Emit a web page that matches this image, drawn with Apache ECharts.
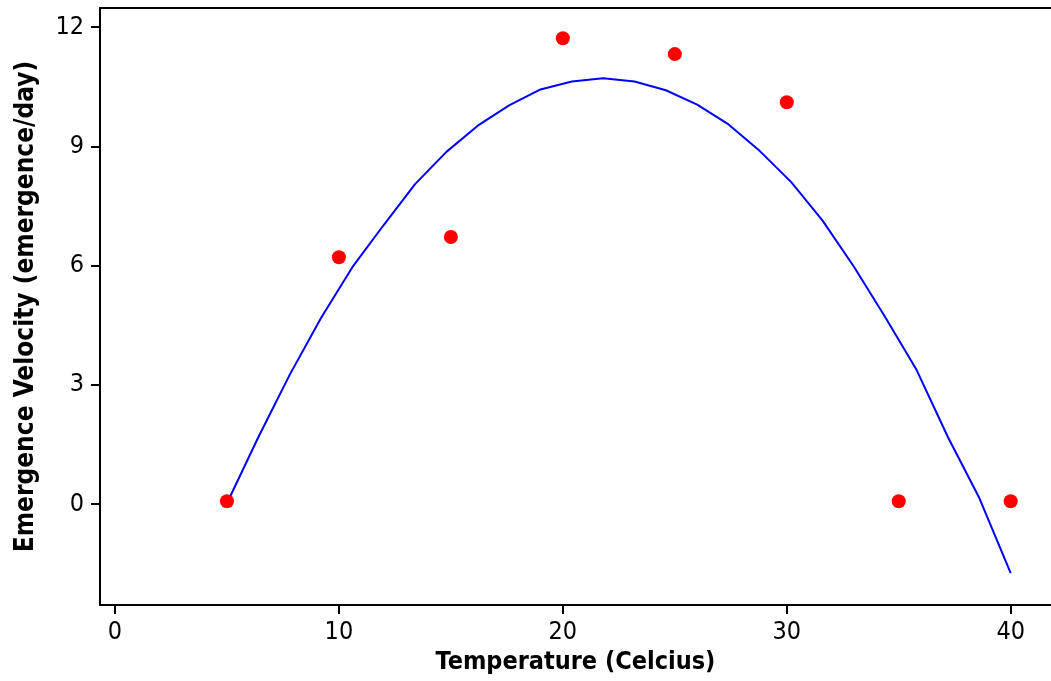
<!DOCTYPE html>
<html>
<head>
<meta charset="utf-8">
<script src="https://cdn.jsdelivr.net/npm/echarts@6/dist/echarts.min.js"></script>
<style>
html,body{margin:0;padding:0;background:#fff;}
#chart{width:1051px;height:681px;}
</style>
</head>
<body>
<div id="chart"></div>
<script>
// Observed data
const obsTemp = [5, 10, 15, 20, 25, 30, 35, 40];
const obsVelocity = [0.07, 6.21, 6.72, 11.72, 11.32, 10.11, 0.07, 0.07];

// Fitted curve
const fitTemp = [5.0, 6.4, 7.8, 9.2, 10.6, 12.0, 13.4, 14.8, 16.2, 17.6, 19.0, 20.4, 21.8,
                 23.2, 24.6, 26.0, 27.4, 28.8, 30.2, 31.6, 33.0, 34.4, 35.8, 37.2, 38.6, 40.0];
const fitVelocity = [0.02, 1.68, 3.25, 4.68, 5.96, 7.02, 8.05, 8.86, 9.52, 10.03, 10.43, 10.63, 10.71,
                     10.63, 10.41, 10.05, 9.55, 8.88, 8.1, 7.13, 5.97, 4.7, 3.37, 1.68, 0.15, -1.74];

// Tick labels
const xTicks = [0, 10, 20, 30, 40];
const yTicks = [0, 3, 6, 9, 12];

const chart = echarts.init(document.getElementById('chart'), null, {renderer: 'canvas'});
const font = '"DejaVu Sans Condensed", "DejaVu Sans", sans-serif';
chart.setOption({
  animation: false,
  backgroundColor: '#fff',
  grid: {left: 100, right: 0, top: 8, bottom: 76, containLabel: false},
  xAxis: [{
    type: 'value', min: -0.67, max: 41.8,
    name: 'Temperature (Celcius)', nameLocation: 'middle', nameGap: 45,
    nameTextStyle: {fontFamily: font, fontWeight: 'bold', fontSize: 25, color: '#000'},
    axisLine: {show: true, onZero: false, lineStyle: {color: '#000', width: 2}},
    axisTick: {show: true, length: 9, customValues: xTicks, lineStyle: {color: '#000', width: 2}},
    axisLabel: {customValues: xTicks, margin: 15, fontFamily: font, fontSize: 25, color: '#000'},
    splitLine: {show: false}
  }, {
    type: 'value', position: 'top', min: -0.67, max: 41.8,
    axisLine: {show: true, onZero: false, lineStyle: {color: '#000', width: 2}},
    axisTick: {show: false}, axisLabel: {show: false}, splitLine: {show: false}
  }],
  yAxis: {
    type: 'value', min: -2.54, max: 12.48,
    name: 'Emergence Velocity (emergence/day)', nameLocation: 'middle', nameGap: 61,
    nameTextStyle: {fontFamily: font, fontWeight: 'bold', fontSize: 26, color: '#000'},
    axisLine: {show: true, onZero: false, lineStyle: {color: '#000', width: 2}},
    axisTick: {show: true, length: 9, customValues: yTicks, lineStyle: {color: '#000', width: 2}},
    axisLabel: {customValues: yTicks, margin: 16, fontFamily: font, fontSize: 25, color: '#000'},
    splitLine: {show: false}
  },
  series: [{
    type: 'line',
    data: fitTemp.map((t, i) => [t, fitVelocity[i]]),
    showSymbol: false, symbol: 'none',
    lineStyle: {color: '#0000ff', width: 2},
    z: 2
  }, {
    type: 'scatter',
    data: obsTemp.map((t, i) => [t, obsVelocity[i]]),
    symbol: 'circle', symbolSize: 14,
    itemStyle: {color: '#ff0000', opacity: 1},
    z: 3
  }]
});
</script>
</body>
</html>
